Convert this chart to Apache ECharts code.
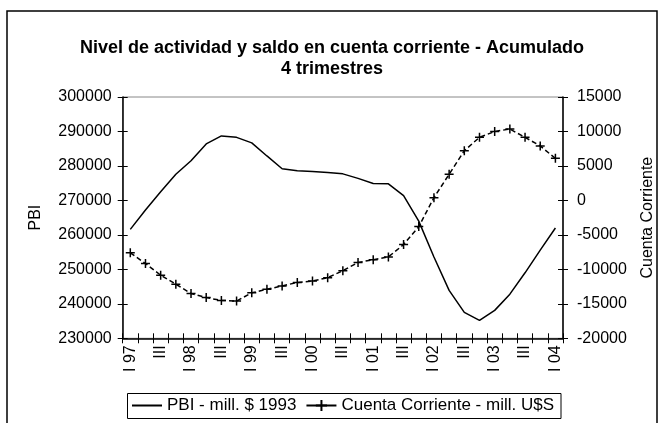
<!DOCTYPE html>
<html>
<head>
<meta charset="utf-8">
<script src="https://cdn.jsdelivr.net/npm/echarts@6/dist/echarts.min.js"></script>
<style>
html,body{margin:0;padding:0;background:#fff;}
#c{width:664px;height:423px;}
</style>
</head>
<body>
<div id="c"></div>
<script>
const categories = ['I 97','II','III','IV','I 98','II','III','IV','I 99','II','III','IV','I 00','II','III','IV','I 01','II','III','IV','I 02','II','III','IV','I 03','II','III','IV','I 04'];
const pbi = [261600, 267200, 272500, 277600, 281500, 286400, 288700, 288300, 286700, 282900, 279200, 278600, 278400, 278100, 277700, 276400, 274900, 274800, 271400, 264000, 253600, 243900, 237500, 235200, 238100, 242800, 249000, 255600, 262000];
const cc = [-7600, -9150, -10850, -12150, -13500, -14100, -14500, -14600, -13400, -12900, -12400, -11900, -11700, -11200, -10200, -9000, -8600, -8200, -6400, -3800, 400, 3800, 7200, 9150, 10000, 10350, 9150, 7900, 6100];
const pbiAxis = {min: 230000, max: 300000, interval: 10000};
const ccAxis = {min: -20000, max: 15000, interval: 5000};

const font = 'Liberation Sans, Arial, sans-serif';
const chart = echarts.init(document.getElementById('c'), null, {renderer: 'canvas'});
const plus = 'path://M0,5L10,5M5,0L5,10';

function yAx(cfg, pos, main, name, gap) {
  return {
    type: 'value', position: pos, min: cfg.min, max: cfg.max, interval: cfg.interval,
    name: main ? name : '', nameLocation: 'middle', nameGap: gap, nameRotate: 90,
    nameTextStyle: {fontFamily: font, fontSize: 16, color: '#000'},
    axisLine: {show: main, onZero: false, lineStyle: {color: '#000', width: 1.5}},
    axisTick: {show: true, inside: !main, length: 5, lineStyle: {color: '#000', width: 1}},
    axisLabel: {show: main, fontFamily: font, fontSize: 16, color: '#000', margin: pos === 'left' ? 11 : 14,
      formatter: function (v) { return String(v); }},
    splitLine: {show: false}
  };
}
function xAx(main) {
  return {
    type: 'category', position: 'bottom', data: categories, boundaryGap: true,
    axisLine: {show: main, onZero: false, lineStyle: {color: '#000', width: 1.5}},
    axisTick: {show: true, inside: !main, interval: 0, length: 5, lineStyle: {color: '#000', width: 1}},
    axisLabel: {show: main, interval: 1, rotate: 90, fontFamily: font, fontSize: 16, color: '#000', margin: 7},
    splitLine: {show: false}
  };
}

chart.setOption({
  animation: false,
  backgroundColor: '#fff',
  title: {
    text: 'Nivel de actividad y saldo en cuenta corriente - Acumulado\n4 trimestres',
    left: 'center', top: 33,
    textStyle: {fontFamily: font, fontSize: 18, fontWeight: 'bold', color: '#000', lineHeight: 21}
  },
  graphic: [
    {type: 'rect', shape: {x: 7, y: 11, width: 650, height: 430}, style: {fill: 'none', stroke: '#000', lineWidth: 1.5}, z: -1},
    {type: 'rect', shape: {x: 127.5, y: 393.5, width: 433.5, height: 25}, style: {fill: 'none', stroke: '#000', lineWidth: 1}}
  ],
  grid: {left: 122.7, right: 99, top: 97, bottom: 84.7, show: true, borderColor: '#888', borderWidth: 1, backgroundColor: 'transparent'},
  legend: {
    left: 131, top: 397, itemWidth: 30, itemHeight: 14, itemGap: 9, padding: 0,
    textStyle: {fontFamily: font, fontSize: 17, color: '#000'},
    data: [
      {name: 'PBI - mill. $ 1993', itemStyle: {color: 'rgba(0,0,0,0)', borderColor: 'rgba(0,0,0,0)', borderWidth: 0}},
      {name: 'Cuenta Corriente - mill. U$S', lineStyle: {type: 'solid'}}
    ]
  },
  xAxis: [xAx(true), xAx(false)],
  yAxis: [
    yAx(pbiAxis, 'left', true, 'PBI', 79),
    yAx(pbiAxis, 'left', false, '', 0),
    yAx(ccAxis, 'right', true, 'Cuenta Corriente', 77),
    yAx(ccAxis, 'right', false, '', 0)
  ],
  series: [
    {
      name: 'PBI - mill. $ 1993', type: 'line', xAxisIndex: 0, yAxisIndex: 0, data: pbi,
      symbol: 'none', lineStyle: {color: '#000', width: 1.5}, itemStyle: {color: '#000'}
    },
    {
      name: 'Cuenta Corriente - mill. U$S', type: 'line', xAxisIndex: 0, yAxisIndex: 2, data: cc,
      symbol: plus, symbolSize: 9, showSymbol: true,
      lineStyle: {color: '#000', width: 1.5, type: [5, 3]},
      itemStyle: {color: '#000', borderColor: '#000', borderWidth: 1.5}
    }
  ]
});
</script>
</body>
</html>
